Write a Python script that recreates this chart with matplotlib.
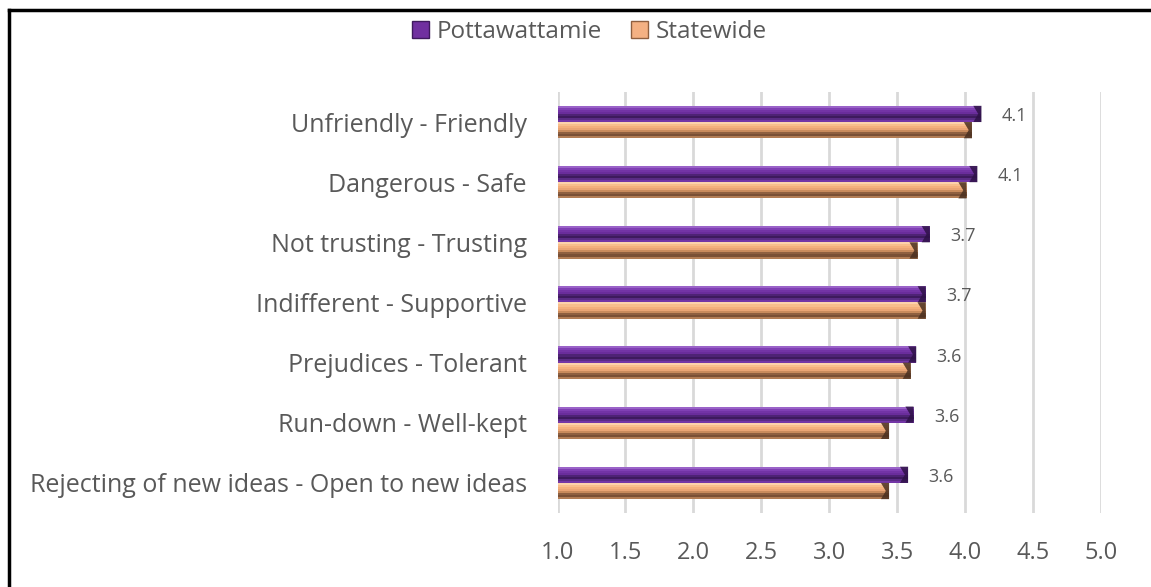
import matplotlib
matplotlib.use("Agg")
import matplotlib.pyplot as plt
import numpy as np
from matplotlib.patches import Patch, Polygon
from matplotlib.lines import Line2D

categories = [
    "Unfriendly - Friendly",
    "Dangerous - Safe",
    "Not trusting - Trusting",
    "Indifferent - Supportive",
    "Prejudices - Tolerant",
    "Run-down - Well-kept",
    "Rejecting of new ideas - Open to new ideas",
]
pottawattamie = [4.12, 4.09, 3.74, 3.71, 3.64, 3.62, 3.58]
statewide = [4.05, 4.01, 3.65, 3.71, 3.60, 3.44, 3.44]
pott_labels = ["4.1", "4.1", "3.7", "3.7", "3.6", "3.6", "3.6"]
series_names = ["Pottawattamie", "Statewide"]
xticks = [1.0, 1.5, 2.0, 2.5, 3.0, 3.5, 4.0, 4.5, 5.0]

FONT = ["Open Sans", "DejaVu Sans"]
GRAY = "#595959"

# bevel colour profiles, top to bottom
purple_profile = ["#9a63c8", "#8040b4", "#7334a6", "#6a2d9c", "#4e2375", "#3e1a5e", "#5a2c85", "#7336a6"]
orange_profile = ["#fcd2ab", "#f8bf8c", "#f4b07c", "#eaa574", "#c98b5c", "#8f6040", "#7a5035", "#b27d55"]

fig = plt.figure(figsize=(11.51, 5.87), dpi=100)
ax = fig.add_axes([0.4844, 0.1261, 0.4722, 0.7172])

n = len(categories)
y = np.arange(n)
bar_h = 0.27

def bevel_bars(ax, centers, values, profile, cap_color):
    k = len(profile)
    strip = bar_h / k
    for i, c in enumerate(profile):
        off = -bar_h / 2 + strip * (i + 0.5)
        ax.barh(centers + off, np.array(values) - 1.0, left=1.0, height=strip * 1.02,
                color=c, edgecolor="none", zorder=3)
    # pyramid-like end cap
    for yc, v in zip(centers, values):
        w = 0.06
        tri = Polygon([[v - w, yc - bar_h / 2], [v, yc - bar_h / 2], [v, yc + bar_h / 2],
                       [v - w, yc + bar_h / 2], [v - w * 0.4, yc]],
                      closed=True, facecolor=cap_color, edgecolor="none", zorder=4, alpha=0.85)
        ax.add_patch(tri)

bevel_bars(ax, y - bar_h / 2, pottawattamie, purple_profile, "#2e1147")
bevel_bars(ax, y + bar_h / 2, statewide, orange_profile, "#4a3020")

for yi, v, lab in zip(y, pottawattamie, pott_labels):
    ax.text(v + 0.15, yi - 0.1, lab, va="center", ha="left", fontsize=13,
            color=GRAY, family=FONT)

ax.set_xlim(1.0, 5.0)
ax.set_ylim(n - 0.5, -0.5)
ax.set_xticks(xticks)
ax.set_xticklabels([f"{t:.1f}" for t in xticks], fontsize=17, color=GRAY, family=FONT)
ax.set_yticks(y)
ax.set_yticklabels(categories, fontsize=18, color=GRAY, family=FONT)
ax.tick_params(axis="both", length=0)
ax.tick_params(axis="x", pad=20)
ax.tick_params(axis="y", pad=22)
ax.grid(axis="x", color="#d9d9d9", linewidth=2, zorder=0)
ax.set_axisbelow(True)
for s in ax.spines.values():
    s.set_visible(False)

handles = [Patch(facecolor="#7030A0", edgecolor="#3e1a5e", label=series_names[0]),
           Patch(facecolor="#f4b183", edgecolor="#8f6040", label=series_names[1])]
fig.legend(handles=handles, loc="center", bbox_to_anchor=(0.512, 0.946), ncol=2,
           frameon=False, prop={"family": FONT, "size": 17.5}, labelcolor=GRAY,
           handlelength=0.7, handleheight=0.7, handletextpad=0.3, columnspacing=1.2)

# outer frame (partially cut off at right and bottom)
fig.add_artist(Line2D([9 / 1151, 1.0], [1 - 10 / 587, 1 - 10 / 587], transform=fig.transFigure,
                      color="black", linewidth=2.5))
fig.add_artist(Line2D([9 / 1151, 9 / 1151], [0.0, 1 - 10 / 587], transform=fig.transFigure,
                      color="black", linewidth=2.5))

fig.savefig("out.png", dpi=100)
